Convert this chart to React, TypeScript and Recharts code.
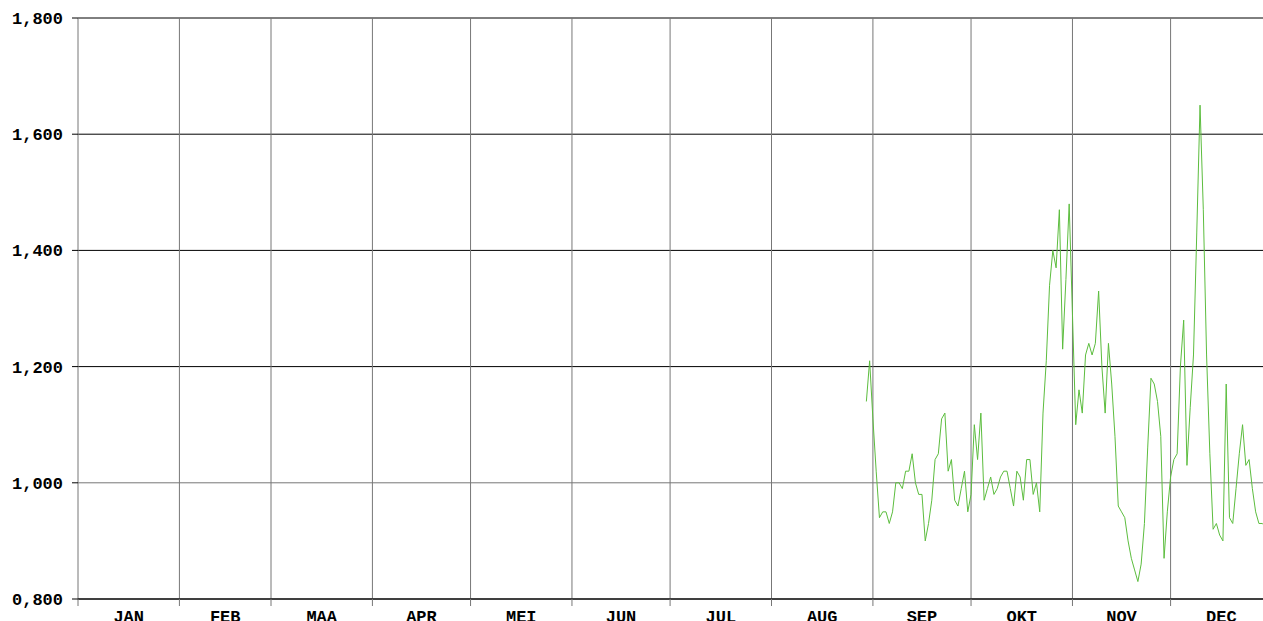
import { LineChart, Line, XAxis, YAxis, CartesianGrid } from 'recharts';

// month names (Dutch) and the day-of-year each month starts on
const monthLabels = ['JAN', 'FEB', 'MAA', 'APR', 'MEI', 'JUN', 'JUL', 'AUG', 'SEP', 'OKT', 'NOV', 'DEC'];
const monthStarts = [0, 31, 59, 90, 120, 151, 181, 212, 243, 273, 304, 334];
const yearLength = 365;

const yTicks = [0.8, 1.0, 1.2, 1.4, 1.6, 1.8];
const blackLines = [0.8, 1.2, 1.4, 1.6, 1.8];
const grayLines = [1.0];

// first reading is on 30 Aug (day index 241), one reading per day up to 31 Dec
const firstDay = 241;
const dailyValues = [
  // aug 30-31
  1.14, 1.21,
  // sep
  1.11, 1.02, 0.94, 0.95, 0.95, 0.93, 0.95, 1.0, 1.0, 0.99,
  1.02, 1.02, 1.05, 1.0, 0.98, 0.98, 0.9, 0.93, 0.97, 1.04,
  1.05, 1.11, 1.12, 1.02, 1.04, 0.97, 0.96, 0.99, 1.02, 0.95,
  // okt
  0.98, 1.1, 1.04, 1.12, 0.97, 0.99, 1.01, 0.98, 0.99, 1.01,
  1.02, 1.02, 0.99, 0.96, 1.02, 1.01, 0.97, 1.04, 1.04, 0.98,
  1.0, 0.95, 1.12, 1.21, 1.34, 1.4, 1.37, 1.47, 1.23, 1.35, 1.48,
  // nov
  1.29, 1.1, 1.16, 1.12, 1.22, 1.24, 1.22, 1.24, 1.33, 1.2,
  1.12, 1.24, 1.17, 1.08, 0.96, 0.95, 0.94, 0.9, 0.87, 0.85,
  0.83, 0.86, 0.93, 1.06, 1.18, 1.17, 1.14, 1.08, 0.87, 0.95,
  // dec
  1.01, 1.04, 1.05, 1.2, 1.28, 1.03, 1.13, 1.22, 1.43, 1.65,
  1.47, 1.22, 1.05, 0.92, 0.93, 0.91, 0.9, 1.17, 0.94, 0.93,
  0.99, 1.05, 1.1, 1.03, 1.04, 0.99, 0.95, 0.93, 0.93, 0.925, 0.92,
];

const data = dailyValues.map((value, i) => ({ day: firstDay + i, value }));

const font = { fontFamily: '"Liberation Mono", "Courier New", monospace', fontWeight: 'bold', fontSize: 17, fill: '#000' };

const fmt = (v: number) => v.toFixed(3).replace('.', ',');

// tick sits on the month start; the name goes in the middle of the month
const MonthTick = (props: any) => {
  const { x, y, payload, width } = props;
  const i = monthStarts.indexOf(payload.value);
  if (i < 0) return <g />;
  const end = monthStarts[i + 1] ?? yearLength;
  const pxPerDay = (typeof width === 'number' ? width : 1194) / yearLength;
  const cx = x + ((end - payload.value) / 2) * pxPerDay;
  return (
    <text x={cx} y={y} dy="0.71em" textAnchor="middle" style={font as any} fill="#000">
      {monthLabels[i]}
    </text>
  );
};

export default function App() {
  return (
    <div style={{ position: 'fixed', left: 0, top: 0, width: 1263, height: 621, overflow: 'hidden', background: '#fff' }}>
      <LineChart width={1272} height={640} data={data} margin={{ top: 18, right: 0, bottom: 0, left: 0 }}>
        <CartesianGrid vertical={false} horizontalValues={blackLines} stroke="#000" fill="none" />
        <CartesianGrid horizontalValues={grayLines} verticalValues={monthStarts} stroke="#777" fill="none" />
        <XAxis
          dataKey="day"
          type="number"
          domain={[0, yearLength]}
          ticks={monthStarts}
          interval={0}
          height={41}
          tickSize={7}
          tickMargin={4}
          tick={<MonthTick />}
          tickLine={{ stroke: '#777' }}
          axisLine={{ stroke: '#000' }}
          allowDataOverflow
        />
        <YAxis
          type="number"
          domain={[0.8, 1.8]}
          ticks={yTicks}
          interval={0}
          width={78}
          tickSize={6}
          tickMargin={9}
          axisLine={false}
          tickLine={{ stroke: '#000' }}
          tickFormatter={fmt}
          tick={font}
          allowDataOverflow
        />
        <Line
          type="linear"
          dataKey="value"
          stroke="#5cbd3e"
          strokeWidth={1}
          dot={false}
          isAnimationActive={false}
        />
      </LineChart>
    </div>
  );
}
